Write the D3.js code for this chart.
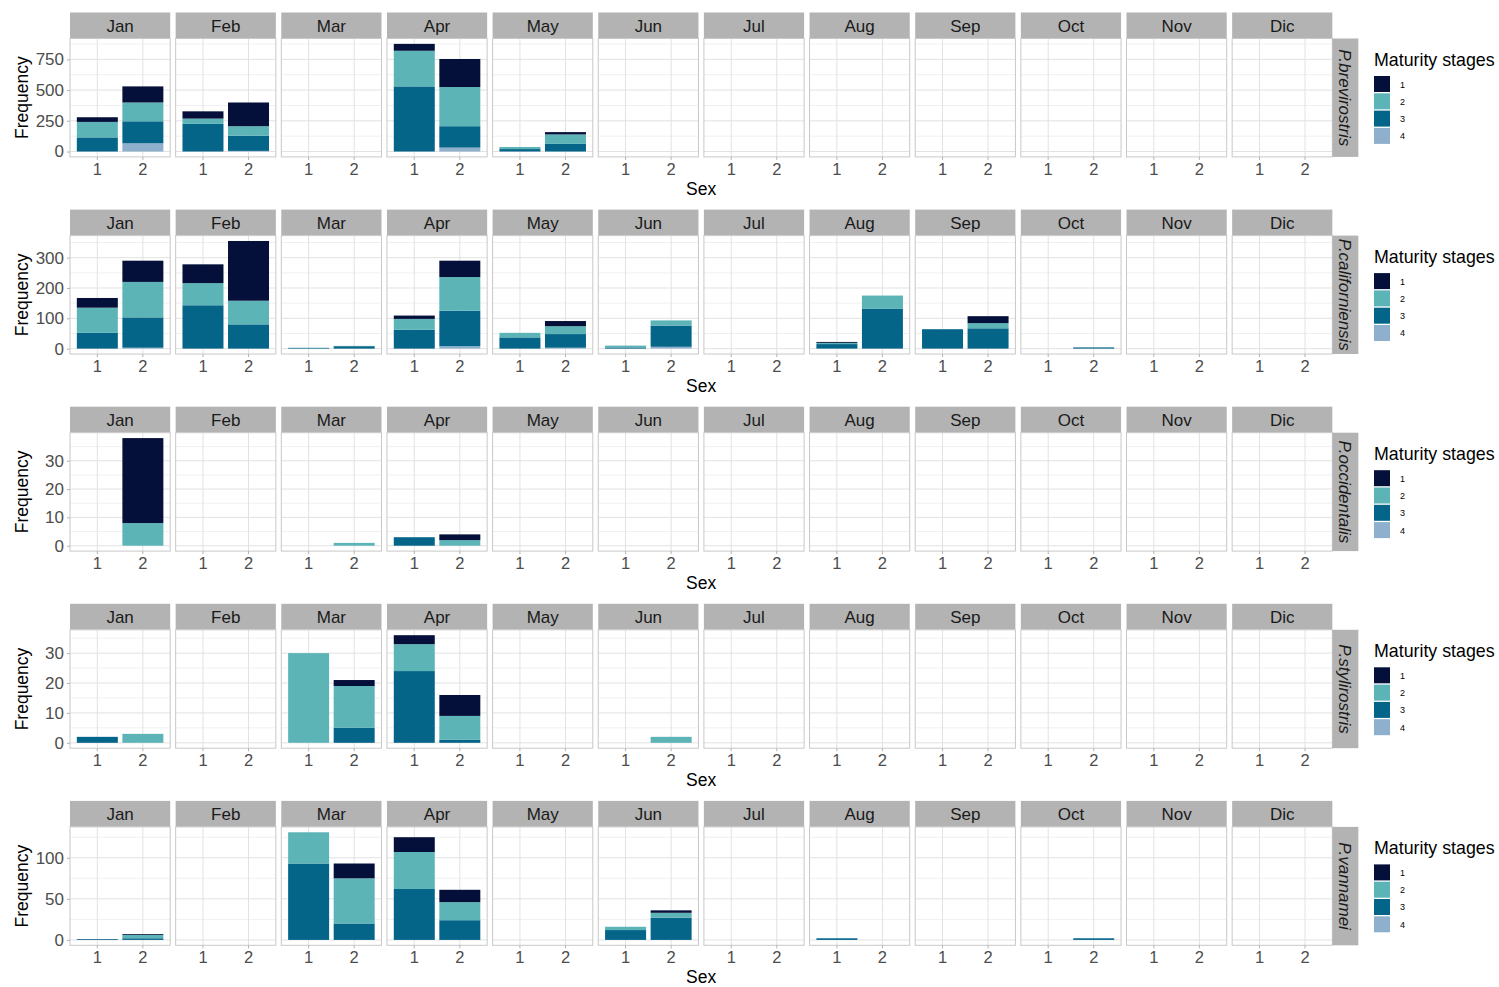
<!DOCTYPE html>
<html><head><meta charset="utf-8">
<script src="https://cdn.jsdelivr.net/npm/d3@7"></script>
<style>body{margin:0;background:#fff}svg{display:block;font-family:"Liberation Sans",Arial,sans-serif}</style>
</head><body><svg id="c" width="1499" height="987"></svg>
<script>
const months = ["Jan","Feb","Mar","Apr","May","Jun","Jul","Aug","Sep","Oct","Nov","Dic"];
const sexes = ["1","2"];
const stages = ["1","2","3","4"];
const stageColors = ["#05103a","#5cb4b7","#056589","#8fb0cc"];
const species = ["P.brevirostris","P.californiensis","P.occidentalis","P.stylirostris","P.vannamei"];
const yTicks = [[0,250,500,750],[0,100,200,300],[0,10,20,30],[0,10,20,30],[0,50,100]];
const minorTicks = [[125,375,625,875],[50,150,250,350],[5,15,25,35],[5,15,25,35],[25,75,125]];
// each record: month, sex, counts for stages [1,2,3,4]
const brevirostris = [
  ["Jan","1",[38,126,115,0]],["Jan","2",[131,153,179,67]],
  ["Feb","1",[59,43,225,0]],["Feb","2",[193,77,124,5]],
  ["Apr","1",[56,290,530,0]],["Apr","2",[228,319,174,32]],
  ["May","1",[0,17,20,0]],["May","2",[19,77,62,0]]
];
const californiensis = [
  ["Jan","1",[32,83,52,0]],["Jan","2",[70,117,100,3]],
  ["Feb","1",[62,73,143,0]],["Feb","2",[197,78,80,0]],
  ["Mar","1",[0,1,2,0]],["Mar","2",[0,1,8,0]],
  ["Apr","1",[11,36,62,0]],["Apr","2",[54,111,117,8]],
  ["May","1",[0,15,37,0]],["May","2",[17,26,45,3]],
  ["Jun","1",[0,6,4,0]],["Jun","2",[0,17,70,6]],
  ["Aug","1",[3,4,15,0]],["Aug","2",[0,44,131,0]],
  ["Sep","1",[0,0,64,0]],["Sep","2",[23,17,67,0]],
  ["Oct","2",[0,0,4,0]]
];
const occidentalis = [
  ["Jan","2",[30,8,0,0]],
  ["Mar","2",[0,1,0,0]],
  ["Apr","1",[0,0,3,0]],["Apr","2",[2,2,0,0]]
];
const stylirostris = [
  ["Jan","1",[0,0,2,0]],["Jan","2",[0,3,0,0]],
  ["Mar","1",[0,30,0,0]],["Mar","2",[2,14,5,0]],
  ["Apr","1",[3,9,24,0]],["Apr","2",[7,8,1,0]],
  ["Jun","2",[0,2,0,0]]
];
const vannamei = [
  ["Jan","1",[0,0,1,0]],["Jan","2",[1,4,2,0]],
  ["Mar","1",[0,38,93,0]],["Mar","2",[18,55,20,0]],
  ["Apr","1",[18,45,62,0]],["Apr","2",[15,22,24,0]],
  ["Jun","1",[0,4,12,0]],["Jun","2",[3,6,27,0]],
  ["Aug","1",[0,0,2,0]],
  ["Oct","2",[0,0,2,0]]
];
const speciesData = [brevirostris, californiensis, occidentalis, stylirostris, vannamei];

const svg = d3.select("#c");
const px0 = 70, pw = 100.2, pgap = 5.45;
const rowTop0 = 12.5, rowStep = 197.1, stripH = 26, panelH = 118.4;
const panelRight = px0 + 12*pw + 11*pgap;

const x = d3.scaleBand().domain(sexes).range([0, pw]).paddingInner(0.1).paddingOuter(0.15);
const stack = d3.stack().keys([3,2,1,0]).value((d,k)=>d.v[k]);

species.forEach((sp, i) => {
  const top = rowTop0 + i*rowStep;
  const pTop = top + stripH, pBot = pTop + panelH;
  const recs = speciesData[i].map(r => ({m:r[0], s:r[1], v:r[2]}));
  const M = d3.max(recs, r => d3.sum(r.v));
  const y = d3.scaleLinear().domain([-0.05*M, 1.05*M]).range([pBot, pTop]);
  const row = svg.append("g");

  months.forEach((m, j) => {
    const px = px0 + j*(pw+pgap);
    const g = row.append("g").attr("transform", `translate(${px},0)`);
    g.append("rect").attr("x",0).attr("y",top).attr("width",pw).attr("height",stripH).attr("fill","#b3b3b3");
    g.append("text").attr("x",pw/2).attr("y",top+stripH/2+6).attr("text-anchor","middle")
      .attr("font-size",17).attr("fill","#1a1a1a").text(m);
    g.append("rect").attr("x",0).attr("y",pTop).attr("width",pw).attr("height",panelH).attr("fill","#fff");
    minorTicks[i].filter(t => y(t) > pTop).forEach(t => {
      g.append("line").attr("x1",0).attr("x2",pw).attr("y1",y(t)).attr("y2",y(t)).attr("stroke","#f0f0f0").attr("stroke-width",1);
    });
    yTicks[i].forEach(t => {
      g.append("line").attr("x1",0).attr("x2",pw).attr("y1",y(t)).attr("y2",y(t)).attr("stroke","#e2e2e2").attr("stroke-width",1);
    });
    sexes.forEach(s => {
      const cx = x(s) + x.bandwidth()/2;
      g.append("line").attr("x1",cx).attr("x2",cx).attr("y1",pTop).attr("y2",pBot).attr("stroke","#e2e2e2").attr("stroke-width",1);
    });
    const mrecs = recs.filter(r => r.m === m);
    const series = stack(mrecs);
    series.forEach(ser => {
      g.append("g").selectAll("rect").data(ser).join("rect")
        .attr("x", d => x(d.data.s))
        .attr("width", x.bandwidth())
        .attr("y", d => y(d[1]))
        .attr("height", d => Math.max(0, y(d[0]) - y(d[1])))
        .attr("fill", stageColors[ser.key]);
    });
    g.append("rect").attr("x",0).attr("y",pTop).attr("width",pw).attr("height",panelH)
      .attr("fill","none").attr("stroke","#c8c8c8").attr("stroke-width",1);
    const xa = g.append("g").attr("transform",`translate(0,${pBot})`).call(d3.axisBottom(x).tickSize(3).tickPadding(3));
    xa.select(".domain").remove();
    xa.selectAll(".tick line").attr("stroke","#b3b3b3");
    xa.selectAll(".tick text").attr("font-size",16.5).attr("fill","#4d4d4d").attr("font-family","Liberation Sans, Arial, sans-serif");
  });

  const ya = row.append("g").attr("transform",`translate(${px0},0)`).call(d3.axisLeft(y).tickValues(yTicks[i]).tickSize(3).tickPadding(3));
  ya.select(".domain").remove();
  ya.selectAll(".tick line").attr("stroke","#b3b3b3");
  ya.selectAll(".tick text").attr("font-size",17).attr("fill","#4d4d4d").attr("font-family","Liberation Sans, Arial, sans-serif");

  row.append("text").attr("transform",`translate(28,${(pTop+pBot)/2}) rotate(-90)`).attr("text-anchor","middle")
    .attr("font-size",17.5).attr("fill","#000").text("Frequency");
  row.append("text").attr("x",(px0+panelRight)/2).attr("y",pBot+38).attr("text-anchor","middle")
    .attr("font-size",17.5).attr("fill","#000").text("Sex");

  row.append("rect").attr("x",panelRight).attr("y",pTop).attr("width",26).attr("height",panelH).attr("fill","#b3b3b3");
  row.append("text").attr("transform",`translate(${panelRight+7},${(pTop+pBot)/2}) rotate(90)`).attr("text-anchor","middle")
    .attr("font-size",17).attr("font-style","italic").attr("fill","#1a1a1a").text(sp);

  const lg = row.append("g").attr("transform",`translate(1374,${top})`);
  lg.append("text").attr("x",0).attr("y",53).attr("font-size",17.8).attr("fill","#000").text("Maturity stages");
  stages.forEach((st, k) => {
    lg.append("rect").attr("x",0).attr("y",63.5 + k*17.3).attr("width",16).attr("height",16).attr("fill",stageColors[k]);
    lg.append("text").attr("x",26).attr("y",63.5 + k*17.3 + 11.5).attr("font-size",9).attr("fill","#000").text(st);
  });
});
</script></body></html>
